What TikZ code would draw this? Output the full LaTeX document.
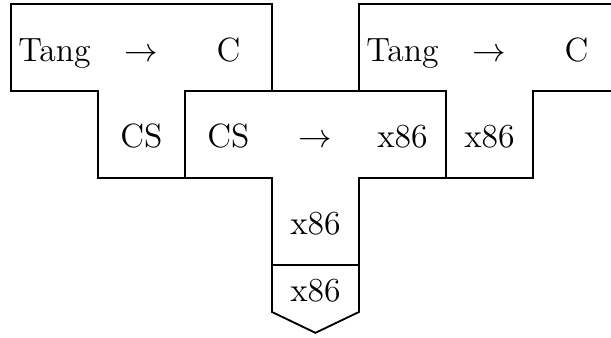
\documentclass[tikz,border=0pt]{standalone}
\usepackage{tikz}

\begin{document}
\begin{tikzpicture}[line width=0.6pt,
  tlabel/.style={anchor=base,inner sep=0pt,font=\fontsize{11pt}{13pt}\selectfont}]
  \useasboundingbox (-0.126,0.046) rectangle (6.897,-3.828);

  % compiler Tang -> C, written in CS
  \draw (0,0) -- (3,0) -- (3,-1) -- (2,-1) -- (2,-2) -- (1,-2) -- (1,-1) -- (0,-1) -- cycle;
  \node[tlabel] (lsrc) at (0.5,-0.665) {Tang};
  \node[tlabel] (larr) at (1.5,-0.665) {$\rightarrow$};
  \node[tlabel] (ltgt) at (2.5,-0.665) {C};
  \node[tlabel] (limp) at (1.5,-1.655) {CS};

  % compiler CS -> x86, written in x86
  \draw (2,-1) -- (5,-1) -- (5,-2) -- (4,-2) -- (4,-3) -- (3,-3) -- (3,-2) -- (2,-2) -- cycle;
  \node[tlabel] (msrc) at (2.5,-1.655) {CS};
  \node[tlabel] (marr) at (3.5,-1.655) {$\rightarrow$};
  \node[tlabel] (mtgt) at (4.5,-1.655) {x86};
  \node[tlabel] (mimp) at (3.5,-2.655) {x86};

  % result: compiler Tang -> C, in x86
  \draw (4,0) -- (7,0) -- (7,-1) -- (6,-1) -- (6,-2) -- (5,-2) -- (5,-1) -- (4,-1) -- cycle;
  \node[tlabel] (rsrc) at (4.5,-0.665) {Tang};
  \node[tlabel] (rarr) at (5.5,-0.665) {$\rightarrow$};
  \node[tlabel] (rtgt) at (6.5,-0.665) {C};
  \node[tlabel] (rimp) at (5.5,-1.655) {x86};

  % machine
  \draw (3,-3) -- (4,-3) -- (4,-3.54) -- (3.5,-3.78) -- (3,-3.54) -- cycle;
  \node[tlabel] (mach) at (3.5,-3.425) {x86};
\end{tikzpicture}
\end{document}
